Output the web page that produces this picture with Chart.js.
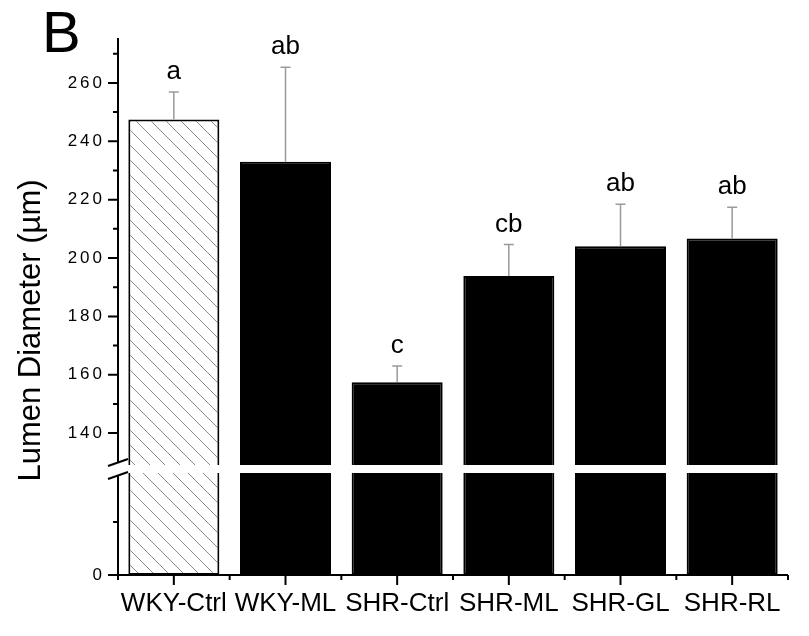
<!DOCTYPE html>
<html>
<head>
<meta charset="utf-8">
<script src="https://cdn.jsdelivr.net/npm/chart.js@4.4.1/dist/chart.umd.min.js"></script>
<style>
  html, body { margin: 0; padding: 0; background: #fff; }
  #wrap { width: 809px; height: 636px; position: relative; }
</style>
</head>
<body>
<div id="wrap"><canvas id="barChart"></canvas></div>
<script>
// values
const groups = ['WKY-Ctrl', 'WKY-ML', 'SHR-Ctrl', 'SHR-ML', 'SHR-GL', 'SHR-RL'];
const means = [247.5, 233.0, 157.4, 193.8, 204.0, 206.7];
const errUp = [9.4, 32.4, 5.6, 10.8, 14.4, 10.7];
const letters = ['a', 'ab', 'c', 'cb', 'ab', 'ab'];

// broken y axis: lower piece 0..lowMax, upper piece highMin..highMax
const lowMax = 20;
const lowTicks = [0];
const lowMinor = [10];
const highMin = 127.7;
const highMax = 275.4;
const highTicks = [140, 160, 180, 200, 220, 240, 260];
const highMinor = [150, 170, 190, 210, 230, 250, 270];

const FONT = 'Arial, "Liberation Sans", sans-serif';

function makeHatch() {
    const c = document.createElement('canvas');
    c.width = 15;
    c.height = 15;
    const g = c.getContext('2d');
    g.fillStyle = '#fff';
    g.fillRect(0, 0, 15, 15);
    g.strokeStyle = '#8a8a8a';
    g.lineWidth = 1;
    g.beginPath();
    g.moveTo(-2, -2); g.lineTo(17, 17);
    g.moveTo(-2, 13); g.lineTo(2, 17);
    g.moveTo(13, -2); g.lineTo(17, 2);
    g.stroke();
    return g.createPattern(c, 'repeat');
}

const hatch = makeHatch();
const fills = groups.map((g, i) => i === 0 ? hatch : '#000');

// y tick labels in the figure are a bit spaced out
function spacedLabels(s) {
    const orig = s.drawLabels;
    s.drawLabels = function (area) {
        this.ctx.save();
        this.ctx.letterSpacing = '3px';
        orig.call(this, area);
        this.ctx.restore();
    };
}

// draws the gap, the axes with the break marks, error bars, letters and titles
const decorPlugin = {
    id: 'decor',
    afterDatasetsDraw(chart) {
        const ctx = chart.ctx;
        const area = chart.chartArea;
        const x = chart.scales.x;
        const yHigh = chart.scales.yHigh;
        const yLow = chart.scales.yLow;
        const meta = chart.getDatasetMeta(1);
        const brk = yHigh.bottom;

        ctx.save();
        // white gap across bars
        ctx.fillStyle = '#fff';
        ctx.fillRect(area.left + 2, brk - 4, area.right - area.left, 8);

        // error bars
        ctx.strokeStyle = '#9a9a9a';
        ctx.lineWidth = 1.5;
        means.forEach((m, i) => {
            const px = meta.data[i].x;
            const yTop = yHigh.getPixelForValue(m);
            const yCap = yHigh.getPixelForValue(m + errUp[i]);
            ctx.beginPath();
            ctx.moveTo(px, yTop);
            ctx.lineTo(px, yCap);
            ctx.moveTo(px - 5, yCap);
            ctx.lineTo(px + 5, yCap);
            ctx.stroke();
        });

        // letters
        ctx.fillStyle = '#000';
        ctx.font = '26px ' + FONT;
        ctx.textAlign = 'center';
        ctx.textBaseline = 'alphabetic';
        means.forEach((m, i) => {
            const px = meta.data[i].x;
            const yCap = yHigh.getPixelForValue(m + errUp[i]);
            ctx.fillText(letters[i], px, yCap - 13);
        });

        // axes
        ctx.strokeStyle = '#000';
        ctx.lineWidth = 2;
        ctx.beginPath();
        ctx.moveTo(area.left, area.top);
        ctx.lineTo(area.left, brk - 7);
        ctx.moveTo(area.left, brk + 7);
        ctx.lineTo(area.left, area.bottom + 1);
        ctx.moveTo(area.left - 1, area.bottom);
        ctx.lineTo(area.right, area.bottom);
        // break marks
        ctx.moveTo(area.left - 10, brk - 3);
        ctx.lineTo(area.left + 10, brk - 10);
        ctx.moveTo(area.left - 10, brk + 10);
        ctx.lineTo(area.left + 10, brk + 3);

        highTicks.forEach(v => {
            const py = yHigh.getPixelForValue(v);
            ctx.moveTo(area.left - 10, py);
            ctx.lineTo(area.left, py);
        });
        highMinor.forEach(v => {
            const py = yHigh.getPixelForValue(v);
            ctx.moveTo(area.left - 5, py);
            ctx.lineTo(area.left, py);
        });
        lowTicks.forEach(v => {
            const py = yLow.getPixelForValue(v);
            ctx.moveTo(area.left - 10, py);
            ctx.lineTo(area.left, py);
        });
        lowMinor.forEach(v => {
            const py = yLow.getPixelForValue(v);
            ctx.moveTo(area.left - 5, py);
            ctx.lineTo(area.left, py);
        });
        // x ticks: major at groups, minor between
        groups.forEach((g, i) => {
            const px = x.getPixelForValue(i);
            ctx.moveTo(px, area.bottom);
            ctx.lineTo(px, area.bottom + 10);
        });
        for (let i = 0; i <= groups.length; i++) {
            const px = x.getPixelForValue(i - 0.5);
            ctx.moveTo(px, area.bottom);
            ctx.lineTo(px, area.bottom + 5);
        }
        ctx.stroke();

        // y title
        ctx.save();
        ctx.translate(40, (area.top + area.bottom) / 2 + 24);
        ctx.rotate(-Math.PI / 2);
        ctx.font = '31px ' + FONT;
        ctx.textAlign = 'center';
        ctx.fillText('Lumen Diameter (\u00b5m)', 0, 0);
        ctx.restore();

        // panel letter
        ctx.font = '58px ' + FONT;
        ctx.textAlign = 'left';
        ctx.fillText('B', 42, 52);
        ctx.restore();
    }
};

const tickFont = { family: FONT, size: 17 };

const ctx = document.getElementById('barChart').getContext('2d');
const barChart = new Chart(ctx, {
    type: 'bar',
    data: {
        labels: groups,
        datasets: [{
            label: 'low',
            data: groups.map(() => [0, lowMax]),
            yAxisID: 'yLow',
            backgroundColor: fills,
            borderColor: '#000',
            borderWidth: 2,
            borderSkipped: 'end'
        }, {
            label: 'high',
            data: means.map(v => [highMin, v]),
            yAxisID: 'yHigh',
            backgroundColor: fills,
            borderColor: '#000',
            borderWidth: 2,
            borderSkipped: 'start'
        }]
    },
    options: {
        responsive: true,
        maintainAspectRatio: false,
        animation: false,
        layout: { padding: { left: 68, top: 38, right: 21, bottom: 0 } },
        datasets: {
            bar: { grouped: false, categoryPercentage: 1, barPercentage: 0.815 }
        },
        plugins: {
            legend: { display: false },
            tooltip: { enabled: false }
        },
        scales: {
            x: {
                grid: { display: false, drawTicks: false },
                border: { display: false },
                ticks: { font: { family: FONT, size: 26 }, color: '#000', padding: 13, maxRotation: 0, autoSkip: false },
                afterFit: s => { s.height = 61; }
            },
            yLow: {
                type: 'linear',
                position: 'left',
                stack: 'yaxis',
                stackWeight: 106,
                weight: 1,
                min: 0,
                max: lowMax,
                grid: { display: false, drawTicks: false },
                border: { display: false },
                ticks: { font: tickFont, color: '#000', padding: 13 },
                afterBuildTicks: s => { s.ticks = lowTicks.map(v => ({ value: v })); },
                afterFit: s => { s.width = 50; spacedLabels(s); }
            },
            yHigh: {
                type: 'linear',
                position: 'left',
                stack: 'yaxis',
                stackWeight: 431,
                weight: 2,
                min: highMin,
                max: highMax,
                grid: { display: false, drawTicks: false },
                border: { display: false },
                ticks: { font: tickFont, color: '#000', padding: 13 },
                afterBuildTicks: s => { s.ticks = highTicks.map(v => ({ value: v })); },
                afterFit: s => { s.width = 50; spacedLabels(s); }
            }
        }
    },
    plugins: [decorPlugin]
});
</script>
</body>
</html>
